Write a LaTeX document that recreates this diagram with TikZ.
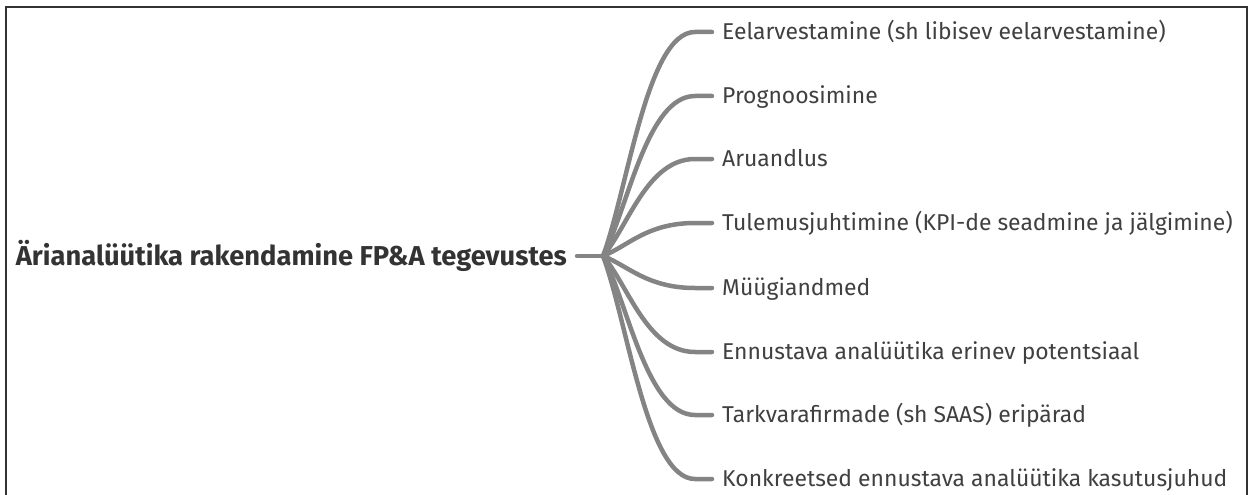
\documentclass[tikz,border=0pt]{standalone}
\usepackage{fontspec}
\setmainfont{Fira Sans}
\usetikzlibrary{calc}
\begin{document}
\begin{tikzpicture}[x=1pt,y=-1pt,
  txt/.style={inner sep=0pt, text=textgray, text height=15.6pt, text depth=0pt, anchor=west, font=\fontsize{22.9}{26}\selectfont},
  roottxt/.style={inner sep=0pt, text=rootgray, text height=18.6pt, text depth=0pt, anchor=east, font=\fontsize{27.3}{30}\bfseries\selectfont},
  branch/.style={draw=linegray, line width=4.5pt, line cap=round}
]
\definecolor{textgray}{HTML}{404040}
\definecolor{rootgray}{HTML}{333333}
\definecolor{linegray}{HTML}{848484}
\useasboundingbox (0,0) rectangle (1251,495);
\draw[line width=1.5pt, draw=black!80] (6,496) -- (6,7) -- (1247,7) -- (1247,496);

\node[roottxt] (root) at (567,256) {Ärianalüütika rakendamine FP\&A tegevustes};
\coordinate (hub) at (603,256);

\node[txt] (c1) at (722,32) {Eelarvestamine (sh libisev eelarvestamine)};
\node[txt] (c2) at (722,96) {Prognoosimine};
\node[txt] (c3) at (722,159) {Aruandlus};
\node[txt] (c4) at (722,223) {Tulemusjuhtimine (KPI-de seadmine ja jälgimine)};
\node[txt] (c5) at (722,288) {Müügiandmed};
\node[txt] (c6) at (722,352) {Ennustava analüütika erinev potentsiaal};
\node[txt] (c7) at (722,415) {Tarkvarafirmade (sh SAAS) eripärad};
\node[txt] (c8) at (722,479) {Konkreetsed ennustava analüütika kasutusjuhud};

\draw[branch] ([xshift=10pt]root.east) -- (hub);
\foreach \c in {c1,c2,c3,c4,c5,c6,c7,c8}{
  \path (\c.west) coordinate (e);
  \draw[branch] (hub) .. controls ($(hub)!0.3!(hub|-e)+(25,0)$) and ($(e)+(-75,0)$) .. ($(e)+(-27,0)$) -- ($(e)+(-10,0)$);
}
\end{tikzpicture}
\end{document}
